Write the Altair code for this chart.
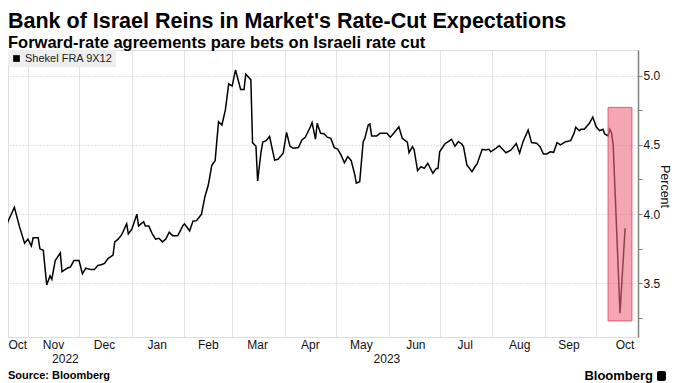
import altair as alt
import pandas as pd

FONT = "Liberation Sans"

series_name = "Shekel FRA 9X12"

dates = [
    "2022-10-14", "2022-10-17", "2022-10-20", "2022-10-24", "2022-10-27", "2022-10-30",
    "2022-11-01", "2022-11-03", "2022-11-04", "2022-11-07", "2022-11-08", "2022-11-10",
    "2022-11-12", "2022-11-14", "2022-11-15", "2022-11-17", "2022-11-20", "2022-11-21",
    "2022-11-24", "2022-11-26", "2022-11-28", "2022-12-01", "2022-12-03", "2022-12-05",
    "2022-12-08", "2022-12-10", "2022-12-12", "2022-12-14", "2022-12-16", "2022-12-18",
    "2022-12-21", "2022-12-22", "2022-12-24", "2022-12-26", "2022-12-29", "2022-12-30",
    "2023-01-01", "2023-01-04", "2023-01-05", "2023-01-08", "2023-01-09", "2023-01-11",
    "2023-01-13", "2023-01-15", "2023-01-17", "2023-01-19", "2023-01-21", "2023-01-23",
    "2023-01-25", "2023-01-28", "2023-01-29", "2023-01-31", "2023-02-01", "2023-02-04",
    "2023-02-06", "2023-02-08", "2023-02-11", "2023-02-13", "2023-02-15", "2023-02-17",
    "2023-02-19", "2023-02-21", "2023-02-23", "2023-02-25", "2023-02-27", "2023-03-01",
    "2023-03-03", "2023-03-06", "2023-03-08", "2023-03-09", "2023-03-12", "2023-03-13",
    "2023-03-15", "2023-03-16", "2023-03-18", "2023-03-19", "2023-03-21", "2023-03-23",
    "2023-03-26", "2023-03-28", "2023-03-31", "2023-04-02", "2023-04-04", "2023-04-06",
    "2023-04-09", "2023-04-11", "2023-04-13", "2023-04-16", "2023-04-17", "2023-04-19",
    "2023-04-20", "2023-04-22", "2023-04-24", "2023-04-26", "2023-04-28", "2023-04-30",
    "2023-05-02", "2023-05-04", "2023-05-06", "2023-05-08", "2023-05-10", "2023-05-12",
    "2023-05-13", "2023-05-15", "2023-05-17", "2023-05-18", "2023-05-20", "2023-05-21",
    "2023-05-22", "2023-05-25", "2023-05-27", "2023-05-31", "2023-06-02", "2023-06-04",
    "2023-06-07", "2023-06-09", "2023-06-12", "2023-06-13", "2023-06-15", "2023-06-16",
    "2023-06-18", "2023-06-20", "2023-06-22", "2023-06-24", "2023-06-27", "2023-06-29",
    "2023-06-30", "2023-07-01", "2023-07-04", "2023-07-06", "2023-07-08", "2023-07-10",
    "2023-07-12", "2023-07-14", "2023-07-15", "2023-07-17", "2023-07-20", "2023-07-22",
    "2023-07-23", "2023-07-26", "2023-07-28", "2023-07-30", "2023-07-31", "2023-08-03",
    "2023-08-05", "2023-08-07", "2023-08-09", "2023-08-12", "2023-08-15", "2023-08-17",
    "2023-08-19", "2023-08-22", "2023-08-24", "2023-08-27", "2023-08-29", "2023-08-31",
    "2023-09-02", "2023-09-04", "2023-09-06", "2023-09-08", "2023-09-10", "2023-09-13",
    "2023-09-16", "2023-09-18", "2023-09-19", "2023-09-21", "2023-09-22", "2023-09-24",
    "2023-09-27", "2023-09-29", "2023-10-01", "2023-10-03", "2023-10-05", "2023-10-06",
    "2023-10-08", "2023-10-09", "2023-10-10", "2023-10-11", "2023-10-15", "2023-10-18",
]

values = [
    3.86, 3.79, 3.94, 4.05, 3.91, 3.79,
    3.82, 3.77, 3.83, 3.83, 3.75, 3.74,
    3.49, 3.555, 3.53, 3.665, 3.72, 3.585,
    3.61, 3.62, 3.665, 3.665, 3.57, 3.61,
    3.60, 3.60, 3.63, 3.635, 3.645, 3.68,
    3.705, 3.80, 3.82, 3.85, 3.93, 3.857,
    3.89, 4.00, 3.915, 3.946, 3.915, 3.915,
    3.86, 3.82, 3.826, 3.80, 3.82, 3.87,
    3.845, 3.845, 3.867, 3.917, 3.93, 3.88,
    3.95, 3.953, 4.00, 4.126, 4.21, 4.35,
    4.385, 4.667, 4.643, 4.75, 4.94, 4.924,
    5.04, 4.90, 4.90, 5.01, 4.97, 4.516,
    4.49, 4.24, 4.45, 4.52, 4.53, 4.56,
    4.39, 4.396, 4.44, 4.59, 4.49, 4.475,
    4.48, 4.535, 4.555, 4.63, 4.66, 4.54,
    4.655, 4.583, 4.58, 4.555, 4.547, 4.48,
    4.47, 4.427, 4.37, 4.415, 4.386, 4.29,
    4.223, 4.234, 4.52, 4.547, 4.643, 4.65,
    4.564, 4.564, 4.583, 4.583, 4.555, 4.583,
    4.63, 4.547, 4.52, 4.443, 4.487, 4.463,
    4.314, 4.342, 4.33, 4.367, 4.295, 4.33,
    4.33, 4.45, 4.506, 4.523, 4.54, 4.49,
    4.523, 4.506, 4.487, 4.355, 4.306, 4.347,
    4.362, 4.468, 4.463, 4.468, 4.45, 4.475,
    4.494, 4.468, 4.443, 4.463, 4.51, 4.44,
    4.523, 4.607, 4.516, 4.511, 4.487, 4.434,
    4.434, 4.45, 4.446, 4.516, 4.50, 4.523,
    4.53, 4.583, 4.627, 4.602, 4.612, 4.612,
    4.655, 4.70, 4.63, 4.602, 4.612, 4.578,
    4.564, 4.612, 4.588, 4.50, 3.285, 3.898,
]

month_label_dates = [
    "2022-10-26", "2022-11-16", "2022-12-16", "2023-01-16", "2023-02-15", "2023-03-16",
    "2023-04-16", "2023-05-16", "2023-06-17", "2023-07-16", "2023-08-17", "2023-09-15",
    "2023-10-18",
]
month_labels = ["Oct", "Nov", "Dec", "Jan", "Feb", "Mar", "Apr", "May", "Jun", "Jul",
                "Aug", "Sep", "Oct"]

year_label_dates = ["2022-11-23", "2023-05-31"]
year_labels = ["2022", "2023"]

grid_dates = [
    "2022-11-01", "2022-12-01", "2023-01-01", "2023-02-01", "2023-03-01", "2023-04-01",
    "2023-05-01", "2023-06-01", "2023-07-01", "2023-08-01", "2023-09-01", "2023-10-01",
]

y_ticks = [3.25, 3.5, 3.75, 4.0, 4.25, 4.5, 4.75, 5.0]

highlight_start = ["2023-10-08"]
highlight_end = ["2023-10-22"]
highlight_low = [3.23]
highlight_high = [4.77]

title_text = "Bank of Israel Reins in Market's Rate-Cut Expectations"
subtitle_text = "Forward-rate agreements pare bets on Israeli rate cut"
source_text = ["Source: Bloomberg"]
brand_text = ["Bloomberg"]

W, H = 630, 287


def dt(s, hours=0):
    y, m, d = (int(p) for p in s.split("-"))
    return alt.DateTime(year=y, month=m, date=d, hours=hours, utc=True)


x_scale = alt.Scale(type="utc", domain=[dt("2022-10-20", 6), dt("2023-10-25", 14)], nice=False)
y_scale = alt.Scale(domain=[3.114, 5.184], nice=False, zero=False)

minor_test = "round(datum.value * 100) % 50 != 0"

x_axis = alt.Axis(
    values=[dt(s) for s in grid_dates],
    labels=False,
    ticks=False,
    domain=False,
    grid=True,
    gridColor="#e3e3e3",
    gridWidth=1,
    title=None,
)

y_axis = alt.Axis(
    orient="right",
    values=y_ticks,
    labelExpr="(round(datum.value * 100) % 50 == 0) ? format(datum.value, '.1f') : ''",
    grid=True,
    gridColor="#c4c4c4",
    gridDash=[1, 2],
    gridOpacity={"condition": {"test": minor_test, "value": 0}, "value": 1},
    domainColor="#808080",
    domainWidth=1.5,
    tickColor="#808080",
    tickSize=4,
    tickWidth=1,
    labelFont=FONT,
    labelFontSize=12,
    labelColor="#111111",
    labelPadding=1,
    title="Percent",
    titleFont=FONT,
    titleFontSize=12.5,
    titleFontWeight="normal",
    titleColor="#111111",
    titleAngle=90,
    titleAlign="center",
    titleBaseline="middle",
    titleX=26,
    titleY=136,
)

df = pd.DataFrame({"date": dates, "value": values, "series": series_name})

line = alt.Chart(df).mark_line(strokeWidth=1.5, clip=True).encode(
    x=alt.X("date:T", scale=x_scale, axis=x_axis),
    y=alt.Y("value:Q", scale=y_scale, axis=y_axis),
    color=alt.Color(
        "series:N",
        scale=alt.Scale(range=["#000000"]),
        legend=alt.Legend(
            title=None,
            orient="none",
            legendX=0,
            legendY=0,
            fillColor="#eeeeee",
            padding=3,
            symbolType="square",
            symbolSize=45,
            symbolFillColor="#000000",
            symbolStrokeColor="#000000",
            symbolStrokeWidth=0,
            symbolOffset=0,
            labelFont=FONT,
            labelFontSize=11,
            labelColor="#222222",
            labelOffset=3,
        ),
    ),
)

hl = pd.DataFrame({"start": highlight_start, "end": highlight_end,
                   "low": highlight_low, "high": highlight_high})
rect = alt.Chart(hl).mark_rect(
    fill="#f06a80", fillOpacity=0.6, stroke="#e05a70", strokeWidth=1
).encode(
    x=alt.X("start:T", scale=x_scale, axis=x_axis),
    x2="end:T",
    y=alt.Y("low:Q", scale=y_scale, axis=y_axis),
    y2="high:Q",
)

ml = pd.DataFrame({"date": month_label_dates, "label": month_labels})
month_text = alt.Chart(ml).mark_text(
    font=FONT, fontSize=12, baseline="middle", align="center", color="#111111"
).encode(
    x=alt.X("date:T", scale=x_scale, axis=x_axis),
    y=alt.value(H + 8),
    text="label:N",
)

yl = pd.DataFrame({"date": year_label_dates, "label": year_labels})
year_text = alt.Chart(yl).mark_text(
    font=FONT, fontSize=12, baseline="middle", align="center", color="#111111"
).encode(
    x=alt.X("date:T", scale=x_scale, axis=x_axis),
    y=alt.value(H + 22),
    text="label:N",
)

src = alt.Chart(pd.DataFrame({"t": source_text})).mark_text(
    font=FONT, fontSize=11, fontWeight="bold", align="left", baseline="middle", color="#000000"
).encode(x=alt.value(0), y=alt.value(H + 39), text="t:N")

brand = alt.Chart(pd.DataFrame({"t": brand_text})).mark_text(
    font=FONT, fontSize=13, fontWeight="bold", align="right", baseline="middle", color="#000000"
).encode(x=alt.value(W + 15), y=alt.value(H + 39), text="t:N")

brand_icon = alt.Chart(pd.DataFrame({"t": brand_text})).mark_rect(
    color="#000000", cornerRadius=2
).encode(
    x=alt.value(W + 19), x2=alt.value(W + 28),
    y=alt.value(H + 34), y2=alt.value(H + 44),
)

chart = alt.layer(line, rect, month_text, year_text, src, brand, brand_icon).properties(
    width=W,
    height=H,
    autosize=alt.AutoSizeParams(type="none"),
    padding={"left": 0, "top": 42, "right": 34, "bottom": 46},
    title=alt.TitleParams(
        text=title_text,
        subtitle=subtitle_text,
        anchor="start",
        frame="group",
        font=FONT,
        fontSize=21.5,
        fontWeight="bold",
        color="#000000",
        subtitleFont=FONT,
        subtitleFontSize=16.5,
        subtitleFontWeight="bold",
        subtitleColor="#000000",
        subtitlePadding=2.3,
        offset=-1.5,
    ),
).configure_view(stroke="transparent").configure(background="#ffffff")

chart.save("out.html", embed_options={"renderer": "svg", "actions": False})
